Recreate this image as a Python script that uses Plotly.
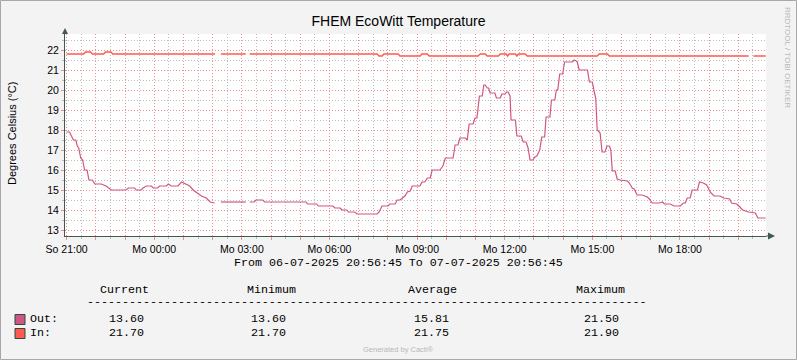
import plotly.graph_objects as go
import pandas as pd

# ---------------- data (minutes after So 21:00, value in °C) ----------------
out_readings = [
    (0, 17.9), (6, 17.9), (10, 17.7), (14, 17.5), (19, 17.5), (22, 17.2), (25, 17.1),
    (29, 16.6), (33, 16.5), (37, 16.0), (42, 16.0), (46, 15.5), (53, 15.5), (58, 15.3),
    (71, 15.3), (81, 15.2), (92, 15.0), (122, 15.0), (127, 15.1), (140, 15.1), (143, 15.0),
    (153, 15.0), (157, 15.1), (164, 15.2), (174, 15.2), (178, 15.1), (187, 15.1), (191, 15.2),
    (205, 15.2), (209, 15.3), (215, 15.2), (229, 15.2), (236, 15.4), (243, 15.3), (253, 15.2),
    (260, 15.0), (266, 14.9), (277, 14.7), (287, 14.6), (295, 14.4), (304, 14.35), (310, None),
    (317, 14.4), (368, 14.4), (372, None), (376, 14.4), (385, 14.4), (389, 14.5), (403, 14.5),
    (407, 14.4), (492, 14.4), (495, 14.3), (514, 14.3), (517, 14.2), (547, 14.2), (551, 14.1),
    (562, 14.1), (566, 14.0), (576, 14.0), (579, 13.9), (592, 13.9), (597, 13.8), (638, 13.8),
    (642, 13.9), (648, 14.2), (660, 14.2), (664, 14.3), (675, 14.3), (679, 14.5), (685, 14.5),
    (695, 14.7), (700, 14.9), (706, 14.95), (710, 15.2), (726, 15.2), (730, 15.4), (736, 15.4),
    (741, 15.6), (747, 15.6), (751, 16.0), (767, 16.0), (773, 16.2), (778, 16.6), (794, 16.6),
    (798, 17.25), (804, 17.25), (808, 17.6), (819, 17.6), (823, 17.5), (827, 18.3), (835, 18.3),
    (839, 18.6), (843, 18.6), (848, 19.7), (854, 19.7), (857, 20.25), (860, 20.25), (864, 20.1),
    (867, 20.1), (870, 19.85), (880, 19.85), (883, 19.6), (891, 19.6), (894, 19.8), (901, 19.8),
    (904, 19.9), (907, 19.9), (911, 19.7), (913, 18.5), (922, 18.5), (925, 17.7), (934, 17.7),
    (938, 17.4), (944, 17.4), (948, 17.1), (952, 16.5), (958, 16.5), (962, 16.65), (966, 16.7),
    (972, 17.0), (976, 17.65), (982, 17.65), (985, 18.65), (993, 18.65), (996, 19.5), (1003, 19.5),
    (1006, 20.0), (1009, 20.0), (1013, 20.8), (1019, 20.8), (1023, 21.4), (1039, 21.4), (1043, 21.5),
    (1047, 21.45), (1049, 21.4), (1053, 21.0), (1070, 21.0), (1074, 20.4), (1080, 20.4), (1084, 19.9),
    (1087, 19.6), (1090, 18.0), (1096, 17.85), (1100, 16.9), (1106, 16.9), (1110, 17.2), (1115, 17.2),
    (1118, 17.0), (1121, 15.95), (1127, 15.95), (1131, 15.55), (1137, 15.5), (1152, 15.45), (1156, 15.35),
    (1162, 15.1), (1166, 15.05), (1172, 14.75), (1182, 14.75), (1186, 14.7), (1193, 14.65), (1197, 14.55),
    (1203, 14.35), (1218, 14.35), (1224, 14.4), (1228, 14.3), (1240, 14.3), (1248, 14.2), (1261, 14.2),
    (1267, 14.35), (1271, 14.35), (1275, 14.6), (1281, 14.6), (1285, 15.0), (1296, 15.0), (1300, 15.4),
    (1308, 15.35), (1315, 15.25), (1322, 14.9), (1330, 14.7), (1342, 14.7), (1350, 14.6), (1362, 14.55),
    (1366, 14.35), (1377, 14.3), (1381, 14.2), (1389, 14.0), (1401, 13.9), (1415, 13.85), (1420, 13.6),
    (1436, 13.6),
]

in_readings = [
    (0, 21.8), (35, 21.8), (39, 21.9), (49, 21.9), (53, 21.8), (76, 21.8), (80, 21.9), (91, 21.9),
    (95, 21.8), (305, 21.8), (310, None), (317, 21.8), (368, 21.8), (372, None), (376, 21.8),
    (638, 21.8), (642, 21.7), (648, 21.7), (652, 21.8), (681, 21.8), (685, 21.7), (726, 21.7),
    (730, 21.8), (741, 21.8), (745, 21.7), (845, 21.7), (850, 21.8), (860, 21.8), (864, 21.7),
    (887, 21.7), (891, 21.8), (903, 21.8), (906, 21.7), (909, 21.8), (922, 21.8), (925, 21.7),
    (928, 21.8), (942, 21.8), (946, 21.7), (1090, 21.7), (1094, 21.8), (1111, 21.8), (1115, 21.7),
    (1401, 21.7), (1405, None), (1411, 21.7), (1436, 21.7),
]

x_labels = ["So 21:00", "Mo 00:00", "Mo 03:00", "Mo 06:00", "Mo 09:00", "Mo 12:00", "Mo 15:00", "Mo 18:00"]

legend_names = ["Out:", "In:"]
legend_headers = ["Current", "Minimum", "Average", "Maximum"]
legend_current = ["13.60", "21.70"]
legend_minimum = ["13.60", "21.70"]
legend_average = ["15.81", "21.75"]
legend_maximum = ["21.50", "21.90"]

title_text = "FHEM EcoWitt Temperature"
y_title = "Degrees Celsius (°C)"
period_text = "From 06-07-2025 20:56:45 To 07-07-2025 20:56:45"

# ---------------- styling ----------------
OUT_COLOR = "#D05682"
IN_COLOR = "#FF5A4F"
AXIS_COLOR = "#3E5A52"
MAJOR_GRID = "#EE9090"
MINOR_GRID = "#BDBDBD"
SANS = "Liberation Sans, Arial, sans-serif"
MONO = "Liberation Mono, Courier New, monospace"

BASE = pd.Timestamp("2025-07-06 21:00:00")
START = BASE - pd.Timedelta(minutes=3, seconds=15)
END = START + pd.Timedelta(hours=24)

L, W, T, H = 65, 701, 34, 202
FW, FH = 797, 360


def px(x):
    return (x - L) / W


def py(y):
    return (T + H - y) / H


def series(readings):
    xs = [BASE + pd.Timedelta(minutes=m) for m, _ in readings]
    ys = [v for _, v in readings]
    return xs, ys


fig = go.Figure()
ox, oy = series(out_readings)
ix, iy = series(in_readings)
fig.add_trace(go.Scatter(x=ox, y=oy, mode="lines", name="Out",
                         line=dict(color=OUT_COLOR, width=1.2), connectgaps=False))
fig.add_trace(go.Scatter(x=ix, y=iy, mode="lines", name="In",
                         line=dict(color=IN_COLOR, width=1.5), connectgaps=False))

tickvals = [BASE + pd.Timedelta(hours=h) for h in range(24)]
ticktext = [x_labels[h // 3] if h % 3 == 0 else "" for h in range(24)]

fig.update_xaxes(
    type="date", range=[START, END],
    tickmode="array", tickvals=tickvals, ticktext=ticktext,
    showgrid=True, gridcolor=MAJOR_GRID, griddash="1px,2px", gridwidth=1,
    ticks="outside", ticklen=3, tickcolor=MAJOR_GRID,
    minor=dict(tick0=BASE + pd.Timedelta(minutes=30), dtick=3600000, showgrid=True,
               gridcolor=MINOR_GRID, griddash="1px,2px", ticks="outside", ticklen=2,
               tickcolor=MINOR_GRID),
    showline=True, linecolor=AXIS_COLOR, linewidth=1,
    tickfont=dict(family=SANS, size=10.5, color="#000"),
    zeroline=False, fixedrange=True,
)
fig.update_yaxes(
    range=[12.7, 22.8], tickmode="linear", tick0=13, dtick=1,
    showgrid=True, gridcolor=MAJOR_GRID, griddash="1px,2px", gridwidth=1,
    ticks="outside", ticklen=3, tickcolor=MAJOR_GRID,
    minor=dict(dtick=0.5, showgrid=True, gridcolor=MINOR_GRID, griddash="1px,2px",
               ticks="outside", ticklen=2, tickcolor=MINOR_GRID),
    showline=True, linecolor=AXIS_COLOR, linewidth=1,
    tickfont=dict(family=SANS, size=10.5, color="#000"),
    zeroline=False, fixedrange=True,
)

annotations = []


def ann(text, x, y, size, color="#000", family=MONO, xanchor="left", angle=0):
    annotations.append(dict(text=text, x=px(x), y=py(y), xref="paper", yref="paper",
                            showarrow=False, xanchor=xanchor, yanchor="middle",
                            font=dict(family=family, size=size, color=color),
                            textangle=angle, borderpad=0, borderwidth=0))


ann(y_title, 12, 133, 11, family=SANS, xanchor="center", angle=-90)
ann(period_text, 398.5, 263, 11.67, xanchor="center")
header_x = [100, 246.7, 408.3, 576]
for hx, h in zip(header_x, legend_headers):
    ann(h, hx, 290, 11.67)
ann("-" * 80, 87, 302, 11.67)
value_x = [109.3, 251, 414, 584.3]
row_y = [318.7, 332.5]
for i, name in enumerate(legend_names):
    ann(name, 30, row_y[i], 11.67)
    vals = [legend_current[i], legend_minimum[i], legend_average[i], legend_maximum[i]]
    for vx, v in zip(value_x, vals):
        ann(v, vx, row_y[i], 11.67)
ann("Generated by Cacti®", 398, 349, 7.5, color="#B8B8B8", family=SANS, xanchor="center")
ann("RRDTOOL / TOBI OETIKER", 788, 57, 8, color="#B8B8B8", family=SANS, xanchor="center", angle=90)

shapes = []
# outer border
shapes.append(dict(type="rect", xref="paper", yref="paper", x0=px(0.5), x1=px(FW - 0.5),
                   y0=py(0.5), y1=py(FH - 0.5), line=dict(color="#A8A8A8", width=1)))
# legend swatches
sw_colors = [OUT_COLOR, IN_COLOR]
sw_y = [(314.5, 324.5), (328.5, 338.5)]
for c, (y0, y1) in zip(sw_colors, sw_y):
    shapes.append(dict(type="rect", xref="paper", yref="paper", x0=px(15), x1=px(25),
                       y0=py(y1), y1=py(y0), fillcolor=c, line=dict(color="#2B4A40", width=1)))
# axis extensions + arrows
shapes.append(dict(type="line", xref="paper", yref="paper", x0=0, x1=0, y0=1, y1=py(30),
                   line=dict(color=AXIS_COLOR, width=1)))
shapes.append(dict(type="line", xref="paper", yref="paper", x0=1, x1=px(770), y0=0, y1=0,
                   line=dict(color=AXIS_COLOR, width=1)))
shapes.append(dict(type="path", xref="paper", yref="paper",
                   path=f"M {px(L - 3)} {py(34)} L {px(L + 3)} {py(34)} L {px(L)} {py(28)} Z",
                   fillcolor=AXIS_COLOR, line=dict(color=AXIS_COLOR, width=0)))
shapes.append(dict(type="path", xref="paper", yref="paper",
                   path=f"M {px(768)} {py(232.5)} L {px(768)} {py(239.5)} L {px(775)} {py(236)} Z",
                   fillcolor=AXIS_COLOR, line=dict(color=AXIS_COLOR, width=0)))

fig.update_layout(
    width=FW, height=FH,
    margin=dict(l=L, r=FW - L - W, t=T, b=FH - T - H, pad=0),
    paper_bgcolor="#F3F3F3", plot_bgcolor="#FFFFFF",
    showlegend=False,
    title=dict(text=title_text, x=0.5, xref="container", xanchor="center",
               y=1 - 21 / FH, yref="container", yanchor="middle",
               font=dict(family=SANS, size=14, color="#000")),
    annotations=annotations, shapes=shapes,
)

fig.write_html("out.html", config={"displayModeBar": False},
               post_script="document.body.style.margin='0px';")
